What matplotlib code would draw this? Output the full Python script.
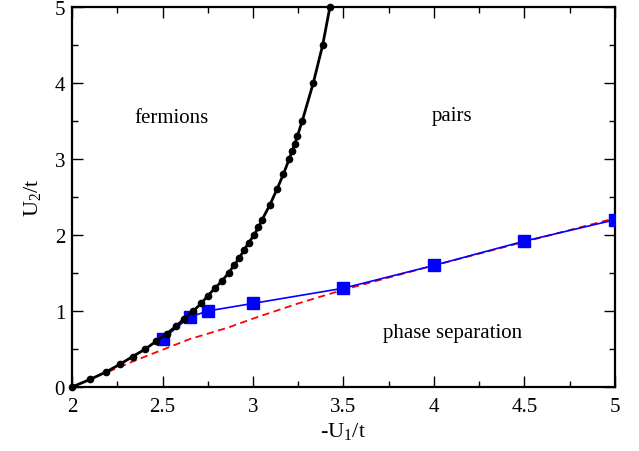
import matplotlib
matplotlib.use("Agg")
import matplotlib.pyplot as plt
from matplotlib.ticker import MultipleLocator, FormatStrFormatter

# -----------------------------
# Data
# -----------------------------

# boundary fermions / pairs (black dots)
fermi_x = [2.0, 2.10, 2.19, 2.265, 2.335, 2.405, 2.464, 2.523, 2.575, 2.62,
           2.67, 2.714, 2.75, 2.79, 2.83, 2.865, 2.895, 2.925, 2.95, 2.977,
           3.006, 3.03, 3.05, 3.094, 3.132, 3.168, 3.20, 3.215, 3.232, 3.245,
           3.272, 3.333, 3.385, 3.425]
fermi_y = [0.0, 0.1, 0.2, 0.3, 0.4, 0.5, 0.6, 0.7, 0.8, 0.9,
           1.0, 1.1, 1.2, 1.3, 1.4, 1.5, 1.6, 1.7, 1.8, 1.9,
           2.0, 2.1, 2.2, 2.4, 2.6, 2.8, 3.0, 3.1, 3.2, 3.3,
           3.5, 4.0, 4.5, 5.0]

# phase separation boundary (blue squares)
sep_x = [2.5, 2.65, 2.75, 3.0, 3.5, 4.0, 4.5, 5.0]
sep_y = [0.63, 0.92, 1.0, 1.1, 1.3, 1.6, 1.92, 2.2]

# dashed red curve
dash_x = [2.2, 2.35, 2.5, 2.65, 2.86, 3.0, 3.25, 3.5, 4.0, 4.5, 5.0]
dash_y = [0.2, 0.35, 0.49, 0.63, 0.78, 0.9, 1.1, 1.28, 1.6, 1.91, 2.22]

# -----------------------------
# Style
# -----------------------------

plt.rcParams["font.family"] = ["Liberation Serif", "DejaVu Serif"]
plt.rcParams["mathtext.fontset"] = "custom"
plt.rcParams["mathtext.rm"] = "Liberation Serif"
plt.rcParams["mathtext.it"] = "Liberation Serif:italic"

fig = plt.figure(figsize=(6.39, 4.52), dpi=100)
ax = fig.add_axes([0.1127, 0.1416, 0.8497, 0.8407])

# -----------------------------
# Plot
# -----------------------------

ax.plot(dash_x, dash_y, color="red", linestyle=(0, (4, 2.5)), linewidth=1.3, zorder=2)
ax.plot(sep_x, sep_y, color="blue", marker="s", markersize=8, linewidth=1.2, zorder=3)
ax.plot(fermi_x, fermi_y, color="black", marker="o", markersize=4.5, linewidth=2.0, zorder=4,
        clip_on=False)

ax.text(2.55, 3.55, "fermions", fontsize=15, ha="center", va="center")
ax.text(4.10, 3.57, "pairs", fontsize=15, ha="center", va="center")
ax.text(4.10, 0.72, "phase separation", fontsize=15, ha="center", va="center")

ax.set_xlim(2, 5)
ax.set_ylim(0, 5)
ax.set_xlabel(r"-U$_\mathrm{1}$/t", fontsize=16, labelpad=3)
ax.set_ylabel(r"U$_\mathrm{2}$/t", fontsize=16, labelpad=8)

ax.xaxis.set_major_locator(MultipleLocator(0.5))
ax.xaxis.set_minor_locator(MultipleLocator(0.25))
ax.yaxis.set_major_locator(MultipleLocator(1))
ax.yaxis.set_minor_locator(MultipleLocator(0.5))
ax.xaxis.set_major_formatter(FormatStrFormatter("%g"))
ax.yaxis.set_major_formatter(FormatStrFormatter("%g"))

for s in ax.spines.values():
    s.set_linewidth(1.6)
ax.tick_params(which="both", direction="in", top=True, right=True, labelsize=15)
ax.tick_params(which="major", length=8, width=1.0)
ax.tick_params(which="minor", length=4, width=1.0)
ax.tick_params(axis="x", pad=7)
ax.tick_params(axis="y", pad=5)

fig.savefig("out.png", dpi=100)
plt.close(fig)
